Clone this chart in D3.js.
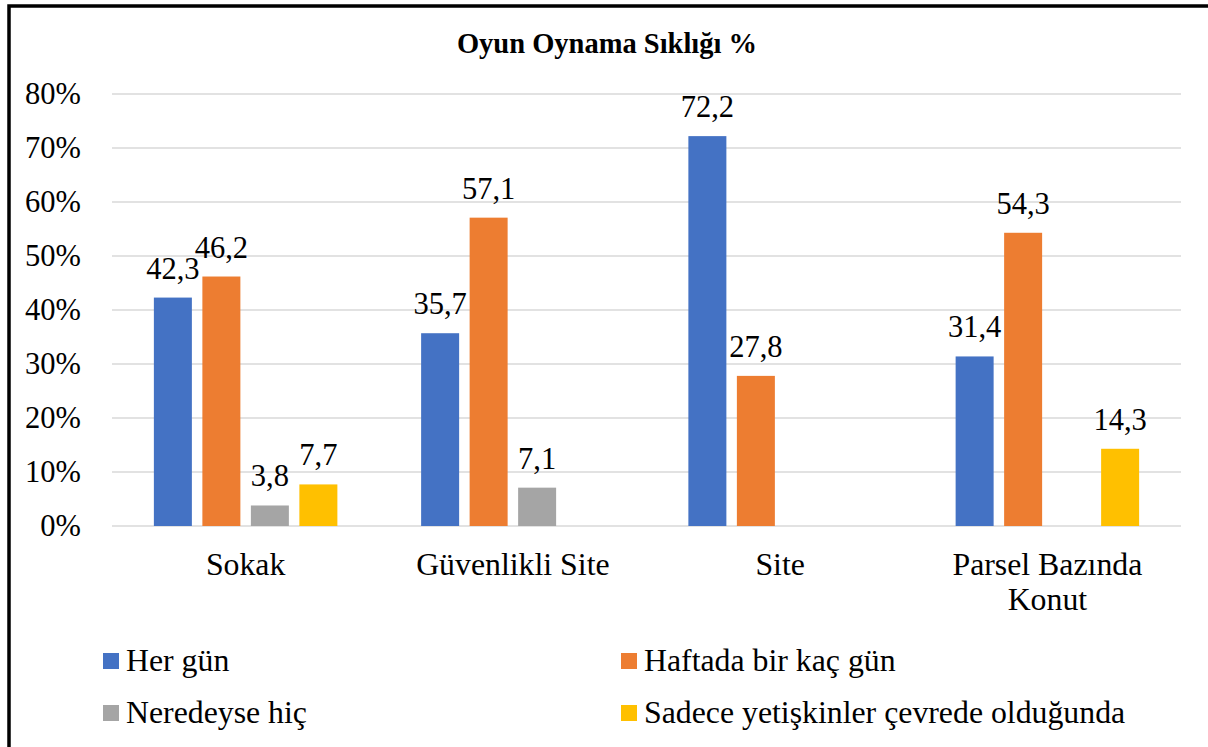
<!DOCTYPE html>
<html><head><meta charset="utf-8">
<script src="https://cdn.jsdelivr.net/npm/d3@7"></script>
<style>body{margin:0;background:#fff}svg{display:block}text{font-family:"Liberation Serif","Tinos","DejaVu Serif",serif}</style>
</head><body>
<script>
const categories = ["Sokak", "Güvenlikli Site", "Site", "Parsel Bazında Konut"];
const seriesNames = ["Her gün", "Haftada bir kaç gün", "Neredeyse hiç", "Sadece yetişkinler çevrede olduğunda"];
const herGun = [42.3, 35.7, 72.2, 31.4];
const haftada = [46.2, 57.1, 27.8, 54.3];
const neredeyse = [3.8, 7.1, null, null];
const sadece = [7.7, null, null, 14.3];
const colors = ["#4472C4", "#ED7D31", "#A5A5A5", "#FFC000"];
const yTicks = [0, 10, 20, 30, 40, 50, 60, 70, 80];
const title = "Oyun Oynama Sıklığı %";

(function () {
const seriesVals = [herGun, haftada, neredeyse, sadece];
const W = 1208, H = 747;
const FS = 31.8, FT = 30.5;
const svg = d3.select("body").append("svg").attr("width", W).attr("height", H);

svg.append("rect").attr("x", 9).attr("y", 6).attr("width", W + 20).attr("height", H + 20)
  .attr("fill", "none").attr("stroke", "#000").attr("stroke-width", 3.5);

const pL = 112, pR = 1181, pT = 94, pB = 526;
const x0 = d3.scaleBand().domain(categories).range([pL, pR]).padding(0);
const step = 48.5, gap = 10.5;
const groupW = 4 * step - gap;
const off = (x0.bandwidth() - groupW) / 2;
const x1 = d3.scaleBand().domain(d3.range(4)).range([off, off + groupW]).paddingInner(gap / step).paddingOuter(0);
const y = d3.scaleLinear().domain([0, 80]).range([pB, pT]);

svg.append("text").attr("x", 607).attr("y", 53).attr("text-anchor", "middle")
  .attr("font-weight", "bold").attr("font-size", 28.5).text(title);

svg.append("g").selectAll("line").data(yTicks).join("line")
  .attr("x1", pL).attr("x2", pR).attr("y1", d => y(d)).attr("y2", d => y(d))
  .attr("stroke", "#d9d9d9").attr("stroke-width", 1.5);

svg.append("g").selectAll("text").data(yTicks).join("text")
  .attr("x", 81).attr("y", d => y(d)).attr("dy", "0.33em").attr("text-anchor", "end")
  .attr("font-size", FT).attr("fill", "#000").text(d => d + "%");

const data = [];
categories.forEach((c, ci) => seriesVals.forEach((s, si) => {
  if (s[ci] != null) data.push({c, si, v: s[ci]});
}));

svg.append("g").selectAll("rect").data(data).join("rect")
  .attr("x", d => x0(d.c) + x1(d.si)).attr("width", x1.bandwidth())
  .attr("y", d => y(d.v)).attr("height", d => y(0) - y(d.v))
  .attr("fill", d => colors[d.si]);

svg.append("g").selectAll("text").data(data).join("text")
  .attr("x", d => x0(d.c) + x1(d.si) + x1.bandwidth() / 2).attr("y", d => y(d.v) - 19)
  .attr("text-anchor", "middle").attr("font-size", FT).attr("fill", "#000")
  .text(d => d3.format(".1f")(d.v).replace(".", ","));

const catLines = {"Parsel Bazında Konut": ["Parsel Bazında", "Konut"]};
categories.forEach(c => {
  const lines = catLines[c] || [c];
  lines.forEach((l, i) => {
    svg.append("text").attr("x", x0(c) + x0.bandwidth() / 2).attr("y", 575 + i * 35)
      .attr("text-anchor", "middle").attr("font-size", FS).attr("fill", "#000").text(l);
  });
});

const legPos = [[103, 661], [621, 661], [103, 713], [621, 713]];
seriesNames.forEach((n, i) => {
  const [lx, ly] = legPos[i];
  svg.append("rect").attr("x", lx).attr("y", ly - 8).attr("width", 16).attr("height", 16).attr("fill", colors[i]);
  svg.append("text").attr("x", lx + 23).attr("y", ly + 9.5)
    .attr("font-size", FS).attr("fill", "#000").text(n);
});
})();
</script>
</body></html>
